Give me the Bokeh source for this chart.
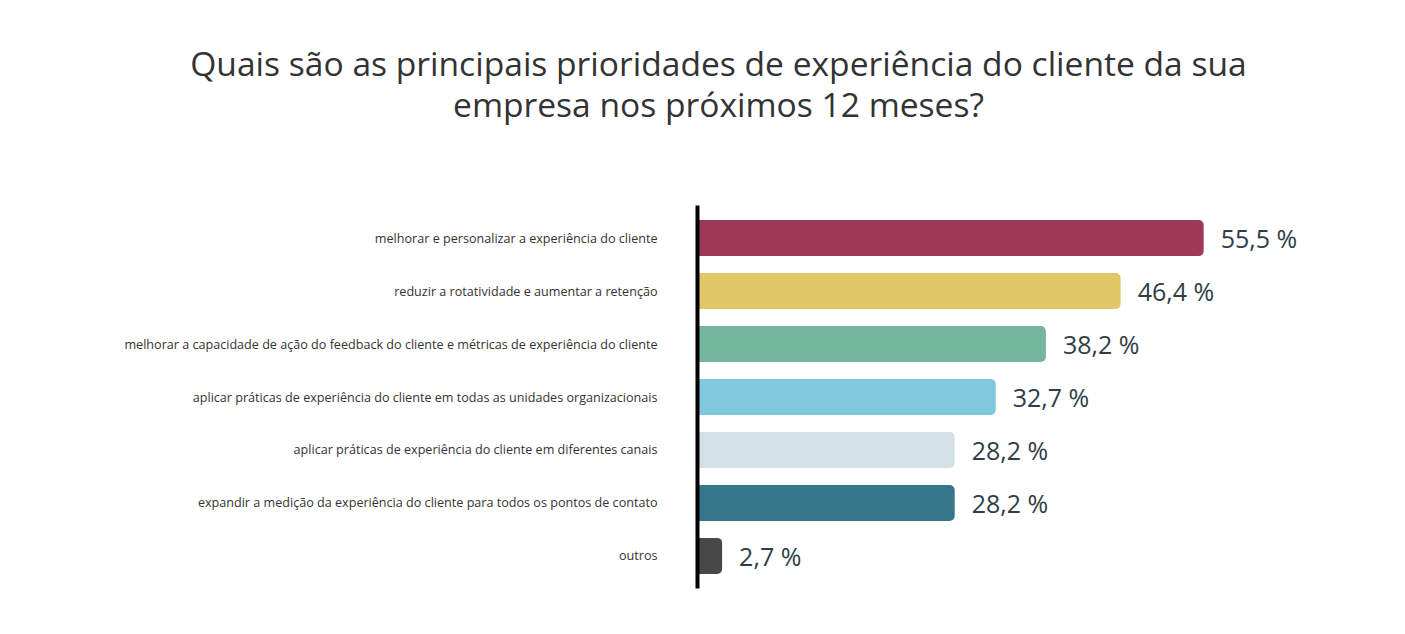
from bokeh.plotting import figure
from bokeh.models import Range1d, FactorRange, ColumnDataSource
from bokeh.core.properties import value
from bokeh.embed import file_html
from bokeh.resources import INLINE

title_lines = ["Quais são as principais prioridades de experiência do cliente da sua",
               "empresa nos próximos 12 meses?"]
categories = [
    "melhorar e personalizar a experiência do cliente",
    "reduzir a rotatividade e aumentar a retenção",
    "melhorar a capacidade de ação do feedback do cliente e métricas de experiência do cliente",
    "aplicar práticas de experiência do cliente em todas as unidades organizacionais",
    "aplicar práticas de experiência do cliente em diferentes canais",
    "expandir a medição da experiência do cliente para todos os pontos de contato",
    "outros",
]
values = [55.5, 46.4, 38.2, 32.7, 28.2, 28.2, 2.7]
colors = ["#9e3858", "#e0c868", "#74b69e", "#80c8de", "#d3e1e6", "#36768a", "#484848"]

labels = [f"{v:.1f}".replace(".", ",") + " %" for v in values]
src = ColumnDataSource(dict(cat=categories, val=values, color=colors, lab=labels))

W = 1389
TH = 205  # title band height

# --- title band (its own figure/root, coordinates = pixels) ---
t = figure(width=W, height=TH, output_backend="svg", toolbar_location=None,
           x_range=Range1d(0, W), y_range=Range1d(0, TH),
           min_border=0, min_border_left=0, min_border_right=0,
           min_border_top=0, min_border_bottom=0)
t.axis.visible = False
t.grid.visible = False
t.outline_line_color = None
t.background_fill_color = "white"
t.border_fill_color = "white"
t.text(x=[718, 718], y=[TH - 62, TH - 103], text=title_lines,
       text_align="center", text_baseline="middle",
       text_font=value("Open Sans"), text_font_size="33.6px", text_color="#333333")

# --- bar chart ---
p = figure(width=W, height=413, output_backend="svg", toolbar_location=None,
           y_range=FactorRange(factors=list(reversed(categories)), range_padding=0.033),
           x_range=Range1d(0, 75),
           min_border_left=697, min_border_right=8, min_border_top=0, min_border_bottom=30)
p.outline_line_color = None
p.xgrid.visible = False
p.ygrid.visible = False
p.xaxis.visible = False
p.background_fill_color = "white"
p.border_fill_color = "white"

yax = p.yaxis[0]
yax.axis_line_color = "black"
yax.axis_line_width = 4
yax.major_tick_line_color = None
yax.minor_tick_line_color = None
yax.major_label_standoff = 34
yax.major_label_text_font = "Open Sans"
yax.major_label_text_font_size = "12.6px"
yax.major_label_text_color = "#333333"

p.hbar(y="cat", left=0, right="val", height=0.68, fill_color="color", line_color=None,
       border_radius=(0, 5, 5, 0), source=src)
p.text(x="val", y="cat", text="lab", x_offset=17, text_baseline="middle",
       text_font=value("Open Sans"), text_font_size="25px", text_color="#2f3e46", source=src)

open("out.html", "w").write(file_html([t, p], INLINE))
